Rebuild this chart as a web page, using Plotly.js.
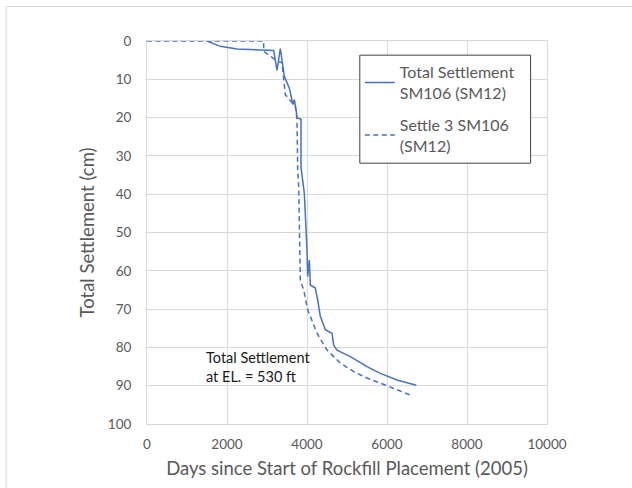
<!DOCTYPE html>
<html>
<head>
<meta charset="utf-8">
<script src="https://cdn.plot.ly/plotly-3.0.1.min.js"></script>
<style>html,body{margin:0;padding:0;background:#fff;}#chart{width:632px;height:488px;}</style>
</head>
<body>
<div id="chart"></div>
<script>
// Total Settlement SM106 (SM12)
const totalDays = [1500, 1833, 2250, 3167, 3250, 3333, 3433, 3558, 3650, 3683, 3733, 3750, 3850, 3850, 3933, 3983, 4000, 4017, 4058, 4083, 4208, 4267, 4333, 4458, 4625, 4667, 4750, 5083, 5500, 5833, 6250, 6733];
const totalSettle = [0, 1.4, 2.1, 2.5, 7.7, 2.0, 9.2, 12.3, 16.6, 15.3, 18.4, 20.1, 20.4, 33, 39.7, 49.3, 54.5, 61.5, 57.2, 63.7, 64.5, 67.6, 71.9, 75.4, 76.3, 79.4, 80.7, 82.4, 85.0, 86.8, 88.5, 89.9];
// Settle 3 SM106 (SM12)
const settle3Days = [0, 2917, 2917, 3208, 3375, 3458, 3708, 3750, 3767, 3792, 3833, 3917, 4017, 4083, 4250, 4500, 4833, 5167, 5500, 6000, 6600];
const settle3Settle = [0, 0, 2.7, 4.9, 5.7, 14.0, 17.1, 20.5, 33.6, 38.0, 62.4, 65.0, 70.2, 71.9, 76.3, 80.7, 84.1, 86.3, 88.0, 90.0, 92.5];
const xTicks = [0, 2000, 4000, 6000, 8000, 10000];
const yTicks = [0, 10, 20, 30, 40, 50, 60, 70, 80, 90, 100];

const FONT = 'Lato, "Open Sans", sans-serif';
const GREY = '#595959';
const BLUE = '#4472C4';

const traces = [
  {x: totalDays, y: totalSettle, mode: 'lines', name: 'Total Settlement<br>SM106 (SM12)', legendgroup: 'a',
   line: {color: BLUE, width: 1.5}},
  {x: settle3Days, y: settle3Settle, mode: 'lines', name: 'Settle 3 SM106<br>(SM12)', legendgroup: 'b',
   line: {color: BLUE, width: 1.5, dash: '5px,3.5px'}}
];

const layout = {
  width: 632, height: 488,
  margin: {l: 147, r: 85, t: 41, b: 64},
  paper_bgcolor: '#fff', plot_bgcolor: '#fff',
  font: {family: FONT, color: GREY},
  showlegend: true,
  legend: {x: 0.532, y: 0.963, xanchor: 'left', yanchor: 'top',
    borderwidth: 0, bgcolor: 'rgba(0,0,0,0)',
    font: {family: FONT, size: 16, color: GREY}, tracegroupgap: 8},
  xaxis: {range: [0, 10000], tickvals: xTicks, ticktext: xTicks.map(String),
    showgrid: true, gridcolor: '#d9d9d9', gridwidth: 1, zeroline: false,
    showline: true, mirror: true, linecolor: '#d9d9d9', linewidth: 1, ticks: '',
    tickfont: {family: FONT, size: 13.5, color: GREY}, ticklabelstandoff: 8,
    title: {text: 'Days since Start of Rockfill Placement (2005)', font: {family: FONT, size: 18.5, color: GREY}, standoff: 10}},
  yaxis: {range: [100, 0], tickvals: yTicks, ticktext: yTicks.map(String),
    showgrid: true, gridcolor: '#d9d9d9', gridwidth: 1, zeroline: false,
    showline: true, mirror: true, linecolor: '#d9d9d9', linewidth: 1, ticks: '',
    tickfont: {family: FONT, size: 13.5, color: GREY}, ticklabelstandoff: 12,
    title: {text: 'Total Settlement (cm)', font: {family: FONT, size: 18.5, color: GREY}, standoff: 8}},
  annotations: [{x: 1432, y: 85.2, xref: 'x', yref: 'y', xanchor: 'left', yanchor: 'middle', align: 'left',
    showarrow: false, text: 'Total Settlement<br>at EL. = 530 ft', font: {family: FONT, size: 14.5, color: '#1a1a1a'}}],
  shapes: [
    {type: 'rect', xref: 'paper', yref: 'paper', x0: -0.352, x1: 1.23, y0: -0.2, y1: 1.09,
     line: {color: '#d9d9d9', width: 1}, fillcolor: 'rgba(0,0,0,0)', layer: 'below'},
    {type: 'rect', xref: 'paper', yref: 'paper', x0: 0.532, x1: 0.959, y0: 0.681, y1: 0.963,
     line: {color: '#404040', width: 1}, fillcolor: '#fff', layer: 'above'}
  ]
};

Plotly.newPlot('chart', traces, layout, {staticPlot: true, displayModeBar: false});
</script>
</body>
</html>
